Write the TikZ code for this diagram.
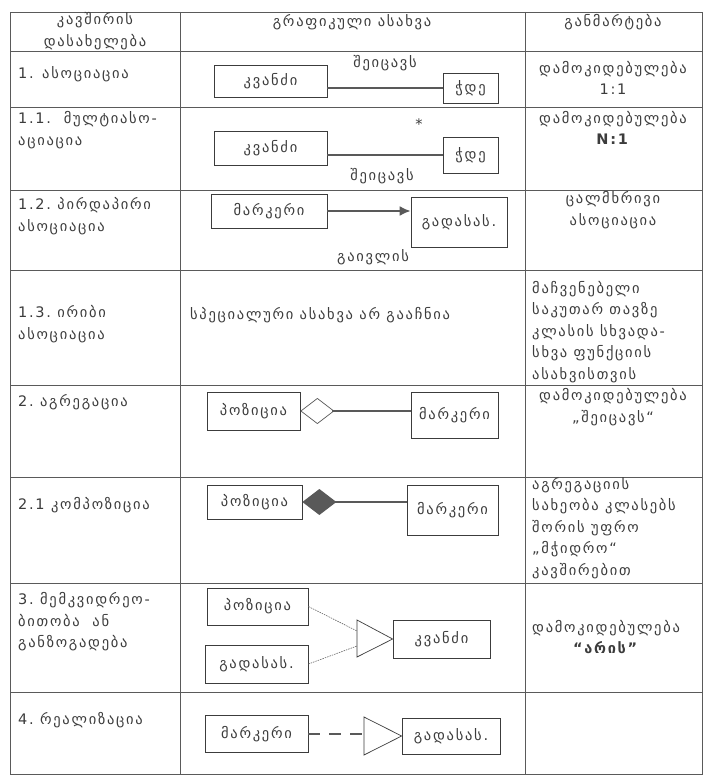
\documentclass[tikz,border=0pt]{standalone}
\usepackage{fontspec}
\setmainfont{DejaVu Sans}[LetterSpace=12]
\usetikzlibrary{arrows.meta}
\definecolor{ink}{HTML}{3C3C3C}
\definecolor{rule}{HTML}{5A5A5A}
\begin{document}
\begin{tikzpicture}[x=1pt,y=-1pt,
  every node/.style={text=ink, inner sep=0pt, font=\fontsize{14.5}{21.5}\selectfont},
  cell/.style={align=left, anchor=west},
  note/.style={align=center},
  cls/.style={draw=ink, line width=0.7pt},
  grid/.style={draw=rule, line width=0.8pt},
  assoc/.style={draw=ink!85, line width=2pt},
  thin dots/.style={draw=ink!80, line width=0.6pt, dash pattern=on 1.5pt off 1pt},
  real/.style={draw=ink!85, line width=2pt, dash pattern=on 12pt off 9pt},
  gen/.style={draw=ink, line width=0.7pt, fill=white}
]
\useasboundingbox (0,0) rectangle (710,778);
\fill[white] (0,0) rectangle (710,778);

% table frame, columns and rows
\draw[grid] (10,12) rectangle (702,774);
\draw[grid] (180,12) -- (180,774);
\draw[grid] (525,12) -- (525,774);
\foreach \r in {51,107,190,270,385,477,583,692}
  \draw[grid] (10,\r) -- (702,\r);

% header
\node[note] (h1) at (95,31) {კავშირის\\დასახელება};
\node[note] (h2) at (352,22) {გრაფიკული ასახვა};
\node[note] (h3) at (613,22) {განმარტება};

% first column: relation names
\node[cell] (n1)  at (18,74)  {1. ასოციაცია};
\node[cell] (n11) at (18,130) {1.1.\ \ მულტიასო-\\აციაცია};
\node[cell] (n12) at (18,216) {1.2.\ პირდაპირი\\ასოციაცია};
\node[cell] (n13) at (18,324) {1.3.\ ირიბი\\ასოციაცია};
\node[cell] (n2)  at (18,402) {2.\ აგრეგაცია};
\node[cell] (n21) at (18,505) {2.1 კომპოზიცია};
\node[cell] (n3)  at (18,622) {3.\ მემკვიდრეო-\\ბითობა\ \ ან\\განზოგადება};
\node[cell] (n4)  at (18,720) {4.\ რეალიზაცია};

% third column: explanations
\node[note] (e1)  at (613,78)  {დამოკიდებულება\\1:1};
\node[note] (e11) at (613,128) {დამოკიდებულება\\\textbf{N:1}};
\node[note] (e12) at (613,210) {ცალმხრივი\\ასოციაცია};
\node[cell] (e13) at (532,332) {მაჩვენებელი\\საკუთარ\ თავზე\\კლასის\ სხვადა-\\სხვა\ ფუნქციის\\ასახვისთვის};
\node[note] (e2)  at (613,407) {დამოკიდებულება\\„შეიცავს“};
\node[cell] (e21) at (532,528) {აგრეგაციის\\სახეობა\ კლასებს\\შორის\ უფრო\\„მჭიდრო“\\კავშირებით};
\node[note, anchor=west] (e3) at (532,637) {დამოკიდებულება\\\textbf{“არის”}};

% 1. association
\node[cls, minimum width=113pt, minimum height=32pt] (a1) at (270.5,81) {კვანძი};
\node[cls, minimum width=55pt, minimum height=30pt] (b1) at (470.5,88) {ჭდე};
\draw[assoc] (a1.east |- b1.west) -- (b1.west);
\node (l1) at (385,63) {შეიცავს};

% 1.1 multi-association
\node[cls, minimum width=113pt, minimum height=34pt] (a11) at (270.5,148) {კვანძი};
\node[cls, minimum width=55pt, minimum height=36pt] (b11) at (470.5,155) {ჭდე};
\draw[assoc] (a11.east |- b11.west) -- (b11.west);
\node (m11) at (419,124) {*};
\node (l11) at (382,176) {შეიცავს};

% 1.2 directed association
\node[cls, minimum width=116pt, minimum height=34pt] (a12) at (269,211) {მარკერი};
\node[cls, minimum width=96pt, minimum height=50pt] (b12) at (459,222) {გადასას.};
\draw[assoc, -{Latex[length=11pt,width=10pt]}] (a12.east) -- (a12.east -| b12.west);
\node (l12) at (373,257) {გაივლის};

% 1.3 reflexive association
\node[cell] (s13) at (190,315) {სპეციალური\ ასახვა\ არ\ გააჩნია};

% 2. aggregation
\node[cls, minimum width=93pt, minimum height=38pt] (a2) at (253.5,411) {პოზიცია};
\node[cls, minimum width=87pt, minimum height=46pt] (b2) at (454.5,415) {მარკერი};
\draw[assoc, {Diamond[open, length=34pt, width=26pt, line width=0.7pt]}-] (a2.east) -- (a2.east -| b2.west);

% 2.1 composition
\node[cls, minimum width=95pt, minimum height=34pt] (a21) at (254.5,502) {პოზიცია};
\node[cls, minimum width=91pt, minimum height=50pt] (b21) at (452.5,510) {მარკერი};
\draw[assoc, {Diamond[length=34pt, width=26pt]}-] (a21.east) -- (a21.east -| b21.west);

% 3. generalization
\node[cls, minimum width=101pt, minimum height=37pt] (a3) at (257.5,606.5) {პოზიცია};
\node[cls, minimum width=103pt, minimum height=38pt] (c3) at (256.5,664) {გადასას.};
\node[cls, minimum width=97pt, minimum height=38pt] (b3) at (441.5,639) {კვანძი};
\coordinate (t3top) at (357,620);
\coordinate (t3bot) at (357,657);
\coordinate (t3tip) at (b3.west);
\draw[gen] (t3top) -- (t3tip) -- (t3bot) -- cycle;
\coordinate (t3in1) at (357,631);
\coordinate (t3in2) at (357,646);
\draw[thin dots] (a3.east) -- (t3in1);
\draw[thin dots] (c3.east) -- (t3in2);

% 4. realization
\node[cls, minimum width=103pt, minimum height=37pt] (a4) at (256.5,734) {მარკერი};
\node[cls, minimum width=98pt, minimum height=36pt] (b4) at (451,736) {გადასას.};
\coordinate (t4top) at (364,717);
\coordinate (t4bot) at (364,755);
\coordinate (t4tip) at (b4.west);
\draw[gen] (t4top) -- (t4tip) -- (t4bot) -- cycle;
\draw[real] (a4.east) -- (a4.east -| t4top);
\end{tikzpicture}
\end{document}
